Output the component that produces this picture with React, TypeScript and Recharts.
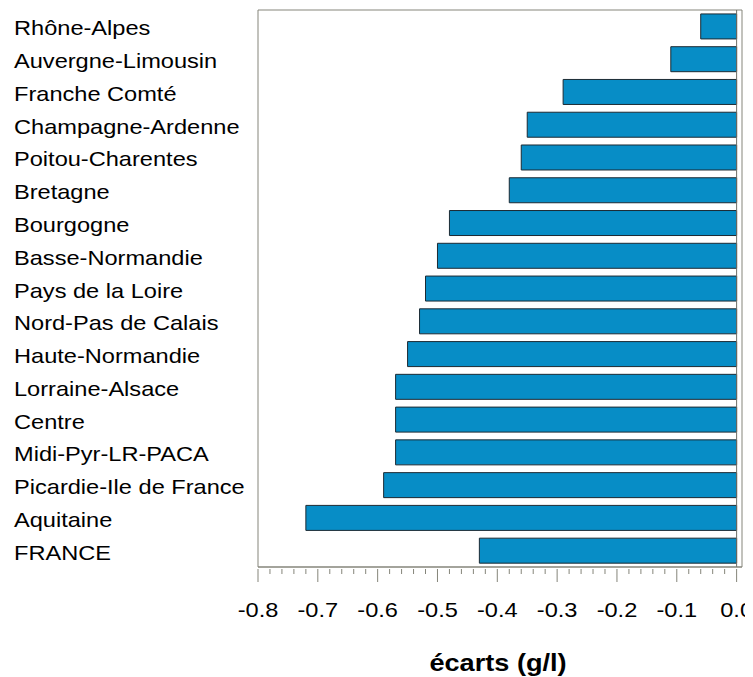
import { BarChart, Bar, XAxis, YAxis, ReferenceLine, ReferenceArea } from "recharts";

const regions = [
  "Rhône-Alpes",
  "Auvergne-Limousin",
  "Franche Comté",
  "Champagne-Ardenne",
  "Poitou-Charentes",
  "Bretagne",
  "Bourgogne",
  "Basse-Normandie",
  "Pays de la Loire",
  "Nord-Pas de Calais",
  "Haute-Normandie",
  "Lorraine-Alsace",
  "Centre",
  "Midi-Pyr-LR-PACA",
  "Picardie-Ile de France",
  "Aquitaine",
  "FRANCE",
];

const ecarts = [
  -0.06, -0.11, -0.29, -0.35, -0.36, -0.38, -0.48, -0.5, -0.52, -0.53, -0.55,
  -0.57, -0.57, -0.57, -0.59, -0.72, -0.43,
];

const majorTicks = [-0.8, -0.7, -0.6, -0.5, -0.4, -0.3, -0.2, -0.1, 0.0];
const tickLabels = ["-0.8", "-0.7", "-0.6", "-0.5", "-0.4", "-0.3", "-0.2", "-0.1", "0.0"];

// minor ticks every 0.02 between the labelled ones
const allTicks: number[] = [];
for (let i = 0; i <= 40; i++) allTicks.push(Math.round((-0.8 + i * 0.02) * 100) / 100);

const data = regions.map((name, i) => ({ name, value: ecarts[i] }));

const FONT = "'Liberation Sans', Arial, sans-serif";
const AXIS = "#85857a";
const STRETCH = 1.18; // text in the original is a bit wider than plain Arial

// eslint-disable-next-line @typescript-eslint/no-explicit-any
const XTick = (props: any) => {
  const { x, y, payload } = props;
  const idx = majorTicks.findIndex((t) => Math.abs(t - payload.value) < 1e-6);
  const major = idx >= 0;
  return (
    <g>
      <line x1={x} x2={x} y1={y + 2} y2={y + (major ? 15 : 7)} stroke={AXIS} strokeWidth={1} />
      {major && (
        <text
          transform={`translate(${x} ${y + 50}) scale(${STRETCH} 1)`}
          textAnchor="middle"
          fontSize={20}
          fontFamily={FONT}
          fill="#000"
        >
          {tickLabels[idx]}
        </text>
      )}
    </g>
  );
};

// eslint-disable-next-line @typescript-eslint/no-explicit-any
const YTick = (props: any) => {
  const { y, payload } = props;
  return (
    <text
      transform={`translate(14 ${y + 9}) scale(${STRETCH} 1)`}
      textAnchor="start"
      fontSize={20}
      fontFamily={FONT}
      fill="#000"
    >
      {payload.value}
    </text>
  );
};

// eslint-disable-next-line @typescript-eslint/no-explicit-any
const AxisTitle = (props: any) => {
  const { viewBox } = props;
  const cx = viewBox.x + viewBox.width / 2 - 2;
  return (
    <text
      transform={`translate(${cx} ${viewBox.y + 104}) scale(${STRETCH} 1)`}
      textAnchor="middle"
      fontSize={23}
      fontWeight="bold"
      fontFamily={FONT}
      fill="#000"
    >
      écarts (g/l)
    </text>
  );
};

export default function App() {
  return (
    <div style={{ margin: "-8px 0 0 -8px", background: "#fff", width: 753, height: 677, overflow: "hidden" }}>
      <BarChart
        width={753}
        height={677}
        data={data}
        layout="vertical"
        margin={{ top: 10, right: 11, bottom: 0, left: 0 }}
        barCategoryGap="12%"
      >
        <XAxis
          type="number"
          domain={[-0.8, 0.009]}
          ticks={allTicks}
          interval={0}
          allowDataOverflow
          tick={<XTick />}
          tickLine={false}
          tickSize={0}
          tickMargin={0}
          axisLine={{ stroke: AXIS }}
          height={110}
          label={{ content: AxisTitle }}
        />
        <YAxis
          type="category"
          dataKey="name"
          width={258}
          axisLine={false}
          tickLine={false}
          interval={0}
          tick={<YTick />}
        />
        <ReferenceArea x1={-0.8} x2={0.009} fill="none" stroke={AXIS} strokeWidth={1} ifOverflow="extendDomain" />
        <Bar dataKey="value" fill="#078dc6" stroke="#1c2a33" strokeWidth={1} isAnimationActive={false} />
        <ReferenceLine x={0} stroke="#6e6e66" strokeWidth={1} />
      </BarChart>
    </div>
  );
}
